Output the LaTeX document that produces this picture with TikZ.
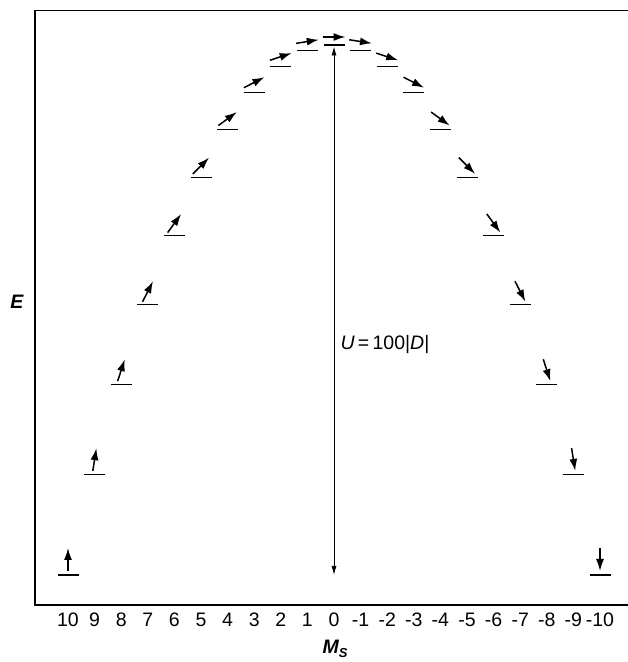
\documentclass[tikz,border=0pt]{standalone}
\usepackage{fontspec}
\setmainfont{Liberation Sans}
\usetikzlibrary{arrows.meta}
\begin{document}
\begin{tikzpicture}[x=1pt, y=1pt, every node/.style={font=\fontsize{19.5}{22}\selectfont},
  level/.style={line width=1.3pt},
  spin/.style={line width=1.5pt, -{Latex[length=12pt,width=8pt]}},
  gap/.style={line width=0.9pt, {Latex[length=9pt,width=5pt]}-{Latex[length=9pt,width=5pt]}},
  axis/.style={line width=1.2pt}]
  \useasboundingbox (0,0) rectangle (628,662);
  % frame
  \draw[axis] (628,651.5) -- (35,651.5) -- (35,57) -- (628,57);
  \node[font=\fontsize{19.5}{22}\selectfont\bfseries\itshape] (E) at (17,360) {E};
  \node[font=\fontsize{19.5}{22}\selectfont\bfseries\itshape] (MS) at (335,13) {M\raisebox{-0.35ex}{\fontsize{13}{15}\selectfont S}};
  % levels, spins and M_S values
  \foreach \m [evaluate=\m as \xx using 334-26.6*\m,
               evaluate=\m as \yy using 617-5.3*\m*\m,
               evaluate=\m as \ang using 9*\m,
               evaluate=\m as \off using 8+0.75*abs(\m)] in {-10,...,10} {
    \coordinate (lv\m) at (\xx,\yy);
    \draw[level] ([xshift=-10.5pt]lv\m) -- ([xshift=10.5pt]lv\m);
    \draw[spin] ([yshift=\off pt]lv\m) ++(\ang+180:11.5) -- ++(\ang:23);
    \node (ms\m) at (\xx,42) {\m};
  }
  % zero-field splitting
  \coordinate (bot) at (334,87);
  \draw[gap] ([yshift=-1.5pt]lv0) -- (bot);
  \node[anchor=west] (U) at (337,317) {\textit{U}\,=\,100|\textit{D}|};
\end{tikzpicture}
\end{document}
